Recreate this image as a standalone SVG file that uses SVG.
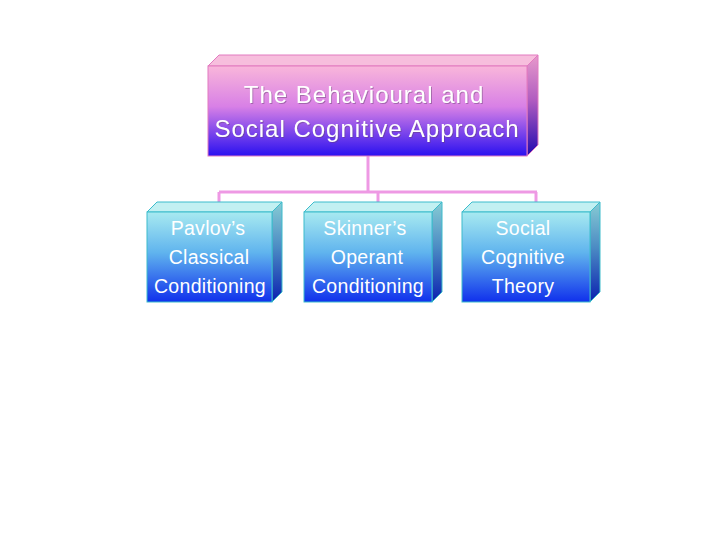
<svg xmlns="http://www.w3.org/2000/svg" width="720" height="540" viewBox="0 0 720 540">
<style>
.t{font-family:"Liberation Sans",Arial,sans-serif;fill:#ffffff;text-anchor:middle}
.tt{font-size:24px;letter-spacing:1px}
.ct{font-size:19.5px;letter-spacing:0.3px}
.conn{stroke:#EE99E4;stroke-width:3;fill:none}
.pe{stroke:#E27AC0;stroke-width:1}
.ce{stroke:#3CBCCC;stroke-width:1}
</style>
<defs>
<linearGradient id="gTopFront" x1="0" y1="0" x2="0" y2="1">
<stop offset="0" stop-color="#F9B6DA"/>
<stop offset="0.45" stop-color="#D880E6"/>
<stop offset="1" stop-color="#2A10F0"/>
</linearGradient>
<linearGradient id="gTopSide" x1="0" y1="0" x2="0" y2="1">
<stop offset="0" stop-color="#E79ACB"/>
<stop offset="0.45" stop-color="#B05CC0"/>
<stop offset="1" stop-color="#2008B0"/>
</linearGradient>
<linearGradient id="gChildFront" x1="0" y1="0" x2="0" y2="1">
<stop offset="0" stop-color="#A8EAF0"/>
<stop offset="0.45" stop-color="#60B4EE"/>
<stop offset="1" stop-color="#1030EC"/>
</linearGradient>
<linearGradient id="gChildSide" x1="0" y1="0" x2="0" y2="1">
<stop offset="0" stop-color="#88CCD4"/>
<stop offset="0.45" stop-color="#4C8CC4"/>
<stop offset="1" stop-color="#0A20B0"/>
</linearGradient>
<filter id="sh" x="-10%" y="-10%" width="120%" height="130%">
<feDropShadow dx="1" dy="1" stdDeviation="0.4" flood-color="#604070" flood-opacity="0.45"/>
</filter>
</defs>
<rect width="720" height="540" fill="#ffffff"/>
<g id="connectors">
<path class="conn" d="M368 156 V192"/>
<path class="conn" d="M219 192 H537"/>
<path class="conn" d="M219 192 V202"/>
<path class="conn" d="M378 192 V202"/>
<path class="conn" d="M536 192 V202"/>
</g>
<g id="node-root">
<polygon class="pe" points="208,66 219,55 538,55 527,66" fill="#F7BEDD"/>
<polygon class="pe" points="527,66 538,55 538,145 527,156" fill="url(#gTopSide)"/>
<rect class="pe" x="208" y="66" width="319" height="90" fill="url(#gTopFront)"/>
<g filter="url(#sh)">
<text class="t tt" x="364" y="103">The Behavioural and</text>
<text class="t tt" x="367" y="137">Social Cognitive Approach</text>
</g>
</g>
<g id="node-pavlov">
<polygon class="ce" points="147,212 157,202 282,202 272,212" fill="#C2F0F2"/>
<polygon class="ce" points="272,212 282,202 282,292 272,302" fill="url(#gChildSide)"/>
<rect class="ce" x="147" y="212" width="125" height="90" fill="url(#gChildFront)"/>
<text class="t ct" x="208" y="235">Pavlov’s</text>
<text class="t ct" x="209" y="264">Classical</text>
<text class="t ct" x="210" y="293">Conditioning</text>
</g>
<g id="node-skinner">
<polygon class="ce" points="304,212 314,202 442,202 432,212" fill="#C2F0F2"/>
<polygon class="ce" points="432,212 442,202 442,292 432,302" fill="url(#gChildSide)"/>
<rect class="ce" x="304" y="212" width="128" height="90" fill="url(#gChildFront)"/>
<text class="t ct" x="365" y="235">Skinner’s</text>
<text class="t ct" x="367" y="264">Operant</text>
<text class="t ct" x="368" y="293">Conditioning</text>
</g>
<g id="node-social">
<polygon class="ce" points="462,212 472,202 600,202 590,212" fill="#C2F0F2"/>
<polygon class="ce" points="590,212 600,202 600,292 590,302" fill="url(#gChildSide)"/>
<rect class="ce" x="462" y="212" width="128" height="90" fill="url(#gChildFront)"/>
<text class="t ct" x="523" y="235">Social</text>
<text class="t ct" x="523" y="264">Cognitive</text>
<text class="t ct" x="523" y="293">Theory</text>
</g>
</svg>
